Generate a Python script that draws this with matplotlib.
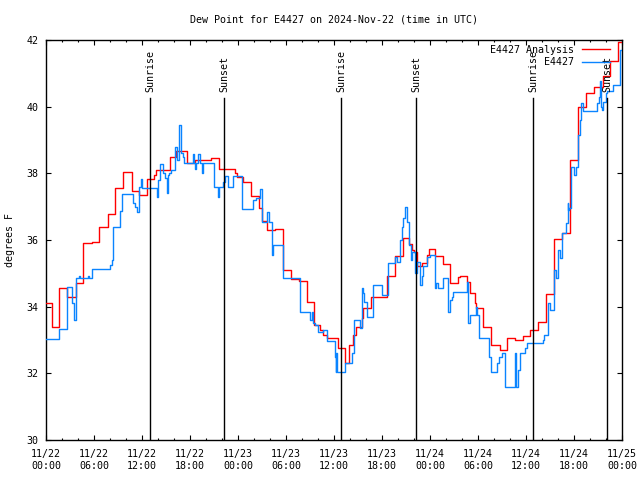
import matplotlib
matplotlib.use("Agg")
import matplotlib.pyplot as plt
import numpy as np

# ---------------- data (hours since 2024-11-22 00:00 UTC) ----------------
analysis_t = [0.0, 0.71, 1.67, 2.67, 3.75, 4.67, 5.7, 6.67, 7.7, 8.67, 9.67, 10.7,
              11.67, 12.6, 13.5, 13.7, 15.5, 16.25, 17.6, 18.6, 20.6, 21.6, 23.6,
              23.9, 24.6, 25.6, 26.6, 26.96, 27.58, 28.62, 29.58, 30.58, 31.67,
              32.58, 33.5, 34.25, 34.58, 35.08, 36.54, 37.4, 37.9, 38.42, 38.75,
              39.46, 39.67, 40.58, 42.67, 43.62, 44.58, 45.42, 45.75, 46.0, 46.33,
              46.96, 47.58, 47.9, 48.62, 49.58, 50.5, 51.54, 51.75, 52.58, 53.0,
              53.6, 53.75, 54.58, 55.58, 56.75, 57.58, 58.6, 59.67, 60.5, 61.54,
              62.5, 63.5, 64.54, 65.5, 66.46, 67.5, 68.54, 69.58, 70.5, 71.54, 72.0]
analysis_v = [34.10, 33.40, 34.55, 34.28, 34.70, 35.90, 35.93, 36.38, 36.77, 37.55,
              38.03, 37.46, 37.34, 37.82, 37.95, 38.09, 38.50, 38.68, 38.30, 38.40,
              38.45, 38.12, 38.00, 37.90, 37.75, 37.32, 36.95, 36.58, 36.30, 36.32,
              35.10, 34.83, 34.78, 34.14, 33.45, 33.30, 33.15, 33.05, 32.75, 32.32,
              32.85, 33.15, 33.40, 33.65, 33.95, 34.30, 34.92, 35.52, 36.05, 35.88,
              35.70, 35.65, 35.22, 35.32, 35.55, 35.72, 35.52, 35.28, 34.70, 34.88,
              34.92, 34.75, 34.40, 34.10, 33.95, 33.40, 32.85, 32.70, 33.05, 33.00,
              33.12, 33.30, 33.53, 34.37, 36.02, 36.20, 38.40, 40.00, 40.41, 40.58,
              40.91, 41.36, 41.94, 41.94]

station_t = [0.0, 1.67, 2.58, 3.29, 3.46, 3.71, 4.1, 4.2, 5.3, 5.4, 5.79, 8.0, 8.2,
             8.42, 9.25, 9.54, 10.83, 11.08, 11.33, 11.67, 11.88, 11.96, 13.83,
             14.04, 14.25, 14.58, 14.9, 15.08, 15.29, 15.42, 15.58, 16.12, 16.33,
             16.6, 16.67, 16.83, 17.17, 17.25, 18.42, 18.55, 18.62, 18.75, 19.04,
             19.2, 19.46, 19.6, 21.0, 21.46, 21.62, 22.17, 22.38, 22.71, 23.4,
             24.46, 25.83, 26.25, 26.75, 26.96, 27.58, 27.92, 28.2, 28.3, 28.42,
             29.58, 31.75, 33.0, 33.2, 33.35, 33.62, 34.04, 34.67, 35.08, 36.12,
             36.2, 36.25, 36.33, 37.38, 38.2, 38.5, 39.25, 39.46, 39.58, 39.8,
             40.08, 40.92, 41.96, 42.8, 43.62, 43.83, 44.25, 44.46, 44.67, 44.9,
             45.17, 45.42, 45.58, 45.7, 46.12, 46.33, 46.75, 46.96, 47.17, 47.58,
             48.0, 48.62, 48.75, 49.04, 49.58, 50.29, 50.5, 50.7, 50.92, 52.58,
             52.79, 53.0, 53.75, 53.92, 54.17, 55.4, 55.58, 56.4, 56.6, 57.0, 57.4,
             58.6, 58.8, 58.95, 59.2, 59.9, 60.1, 62.1, 62.2, 62.8, 63.0, 63.5,
             63.75, 64.04, 64.25, 64.54, 65.0, 65.2, 65.3, 65.4, 65.6, 66.0, 66.2,
             66.5, 66.7, 66.85, 67.1, 68.9, 69.1, 69.25, 69.4, 69.55, 69.65, 70.0,
             70.1, 70.85, 71.8, 72.0]
station_v = [33.02, 33.32, 34.60, 34.10, 33.60, 34.85, 34.92, 34.85, 34.92, 34.85,
             35.12, 35.25, 35.40, 36.38, 36.87, 37.38, 37.12, 37.00, 36.83, 37.60,
             37.82, 37.55, 37.28, 37.80, 38.27, 38.00, 37.85, 37.40, 37.95, 38.00,
             38.10, 38.78, 38.40, 38.90, 39.45, 38.60, 38.50, 38.30, 38.58, 38.30,
             38.12, 38.30, 38.58, 38.30, 38.00, 38.30, 37.58, 37.28, 37.58, 37.75,
             37.92, 37.58, 37.92, 36.92, 37.20, 37.25, 37.52, 36.55, 36.85, 36.55,
             35.85, 35.55, 35.85, 34.85, 33.85, 33.60, 33.85, 33.50, 33.45, 33.25,
             33.30, 32.98, 32.50, 32.05, 32.60, 32.05, 32.30, 32.60, 33.60, 33.35,
             34.55, 34.40, 34.15, 33.68, 34.65, 34.35, 35.32, 35.50, 35.35, 36.00,
             36.40, 36.65, 37.00, 36.55, 35.85, 35.40, 35.65, 35.00, 35.35, 34.65,
             34.92, 35.22, 35.50, 35.55, 34.55, 34.70, 34.55, 34.85, 33.85, 34.20,
             34.30, 34.45, 34.75, 33.50, 33.75, 34.00, 33.75, 33.05, 32.50, 32.05,
             32.30, 32.50, 32.62, 31.58, 32.62, 31.58, 32.10, 32.62, 32.75, 32.90,
             33.00, 33.15, 34.10, 33.90, 35.10, 34.85, 35.70, 35.45, 36.20, 36.50,
             37.10, 36.90, 36.95, 38.20, 37.95, 38.20, 39.16, 39.60, 40.10, 39.88,
             40.10, 40.30, 40.78, 40.00, 39.90, 40.15, 40.40, 40.48, 40.66, 41.70,
             41.70]

sunrise_t = [13.0, 36.875, 60.875]
sunset_t = [22.25, 46.25, 70.125]

xtick_hours = [0, 6, 12, 18, 24, 30, 36, 42, 48, 54, 60, 66, 72]
xtick_labels = ["11/22\n00:00", "11/22\n06:00", "11/22\n12:00", "11/22\n18:00",
                "11/23\n00:00", "11/23\n06:00", "11/23\n12:00", "11/23\n18:00",
                "11/24\n00:00", "11/24\n06:00", "11/24\n12:00", "11/24\n18:00",
                "11/25\n00:00"]
ytick_vals = [30, 32, 34, 36, 38, 40, 42]

title = "Dew Point for E4427 on 2024-Nov-22 (time in UTC)"
ylabel = "degrees F"
name_analysis = "E4427 Analysis"
name_station = "E4427"

# ---------------- styling ----------------
FONT = "DejaVu Sans Mono"
FS = 7.2
RED = "#ff0000"
BLUE = "#0a84ff"
LW = 1.0

plt.rcParams["font.family"] = FONT
plt.rcParams["font.size"] = FS

fig = plt.figure(figsize=(6.4, 4.8), dpi=100)
ax = fig.add_axes([46 / 640, 40 / 480, 576 / 640, 400 / 480])

ax.step(analysis_t, analysis_v, where="post", color=RED, lw=LW, zorder=3)
ax.step(station_t, station_v, where="post", color=BLUE, lw=LW, zorder=4)

ax.set_xlim(0, 72)
ax.set_ylim(30, 42)

label_y = 40.44
line_top = 40.26
for t in sunrise_t:
    ax.plot([t, t], [30, line_top], color="black", lw=LW, zorder=5)
    ax.text(t, label_y, "Sunrise", rotation=90, ha="center", va="bottom",
            fontsize=FS, zorder=6)
for t in sunset_t:
    ax.plot([t, t], [30, line_top], color="black", lw=LW, zorder=5)
    ax.text(t, label_y, "Sunset", rotation=90, ha="center", va="bottom",
            fontsize=FS, zorder=6)

ax.set_xticks(xtick_hours)
ax.set_xticklabels(xtick_labels)
ax.set_xticks(np.arange(0, 73, 2), minor=True)
ax.set_yticks(ytick_vals)
ax.set_yticklabels([str(v) for v in ytick_vals])

ax.tick_params(which="both", direction="in", top=True, right=True, width=0.8,
               color="black")
ax.tick_params(which="major", length=3.4)
ax.tick_params(which="minor", length=1.7)
ax.tick_params(axis="x", which="major", pad=6.5)
ax.tick_params(axis="y", which="major", pad=5.5)
for lab in ax.get_xticklabels():
    lab.set_linespacing(1.25)

for sp in ax.spines.values():
    sp.set_linewidth(1.0)

# legend (manual)
ax.text(0.9167, 0.975, name_analysis, transform=ax.transAxes, ha="right",
        va="center", fontsize=FS, zorder=7)
ax.plot([0.930, 0.979], [0.977, 0.977], transform=ax.transAxes, color=RED,
        lw=LW, zorder=7)
ax.text(0.9167, 0.944, name_station, transform=ax.transAxes, ha="right",
        va="center", fontsize=FS, zorder=7)
ax.plot([0.930, 0.979], [0.946, 0.946], transform=ax.transAxes, color=BLUE,
        lw=LW, zorder=7)

fig.text(334 / 640, 1 - 19 / 480, title, ha="center", va="center", fontsize=FS)
fig.text(10 / 640, 0.5, ylabel, rotation=90, ha="center", va="center",
         fontsize=FS)

fig.savefig("out.png", dpi=100)
